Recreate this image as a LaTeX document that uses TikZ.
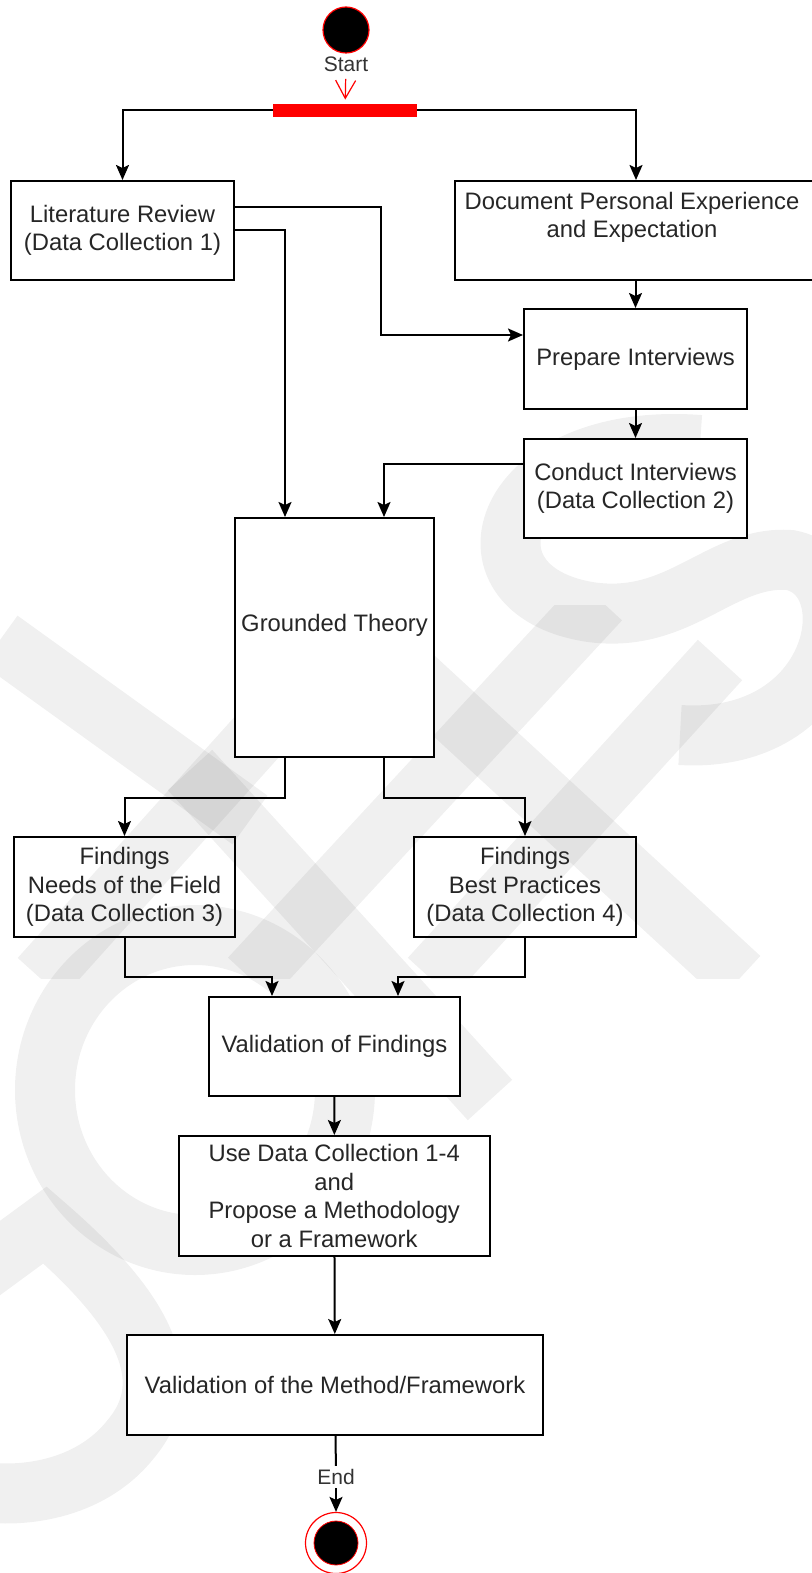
\documentclass[tikz,border=0pt]{standalone}
\usepackage{fontspec}
\setmainfont{Liberation Sans}
\usetikzlibrary{arrows.meta,calc}
\newcommand\boxfont{\fontsize{11.9}{14.3}\selectfont}
\newcommand\lblfont{\fontsize{10.5}{12}\selectfont}
\begin{document}
\begin{tikzpicture}[x=0.5pt,y=-0.5pt,
  box/.style={draw=black,line width=1pt,fill=white,inner sep=0pt,align=center,
    font=\boxfont,text=black!85},
  sz/.style 2 args={minimum width=#1*0.5pt,minimum height=#2*0.5pt},
  txt/.style={inner sep=0pt,align=center,font=\boxfont,text=black!85},
  lbl/.style={inner sep=1.5pt,font=\lblfont,text=black!80},
  arr/.style={line width=1pt,-{Stealth[length=7.5pt,width=6.5pt,inset=1.5pt]}},
  line/.style={line width=1pt},
  openarr/.style={red,line width=0.6pt,-{Straight Barb[length=9pt,width=10pt]}},
  wm/.style={line width=30pt,draw=black,draw opacity=0.06}]

\useasboundingbox (0,0) rectangle (811,1573);

% faint background emblem
\draw[wm] (700,445) .. controls (500,430) and (450,590) .. (590,612)
  .. controls (680,625) and (720,555) .. (790,560)
  .. controls (870,575) and (840,745) .. (680,735);
\begin{scope}
  \clip (0,605) rectangle (790,978);
  \draw[wm] (0,640) -- (250,820);
  \draw[wm] (40,978) -- (380,600);
  \draw[wm] (250,978) -- (600,600);
  \draw[wm] (430,978) -- (720,660);
  \draw[wm] (330,600) -- (740,978);
\end{scope}
\draw[wm] (190,770) -- (490,1100);
\draw[wm] (195,1090) ellipse [x radius=150,y radius=155];
\draw[wm] (-30,1280) -- (45,1225) .. controls (120,1290) and (190,1370) .. (130,1440)
  .. controls (90,1490) and (20,1500) .. (-30,1490);

% start and fork
\node[circle,fill=black,draw=red,line width=0.6pt,minimum size=23pt,inner sep=0pt] (start) at (346,30) {};
\node[lbl] (startl) at (346,64) {Start};
\node[fill=red,minimum width=72pt,minimum height=6.5pt,inner sep=0pt] (fork) at (345,110.5) {};

% activities
\node[box,sz={223}{99}] (lit) at (122.5,230.5) {Literature Review\\(Data Collection 1)};
\node[box,sz={362}{99}] (doc) at (636,230.5) {};
\node[txt] (doct) at (632,217.5) {Document Personal Experience\\and Expectation};
\node[box,sz={223}{100}] (prep) at (635.5,359) {Prepare Interviews};
\node[box,sz={223}{99}] (cond) at (635.5,488.5) {Conduct Interviews\\(Data Collection 2)};
\node[box,sz={199}{239}] (grnd) at (334.5,637.5) {};
\node[txt] (grndt) at (334.5,625) {Grounded Theory};
\node[box,sz={221}{100},fill=none] (f3) at (124.5,887) {Findings\\Needs of the Field\\(Data Collection 3)};
\node[box,sz={222}{100},fill=none] (f4) at (525,887) {Findings\\Best Practices\\(Data Collection 4)};
\node[box,sz={251}{99}] (valf) at (334.5,1046.5) {Validation of Findings};
\node[box,sz={311.5}{120}] (use) at (334.25,1196) {Use Data Collection 1-4\\and\\Propose a Methodology\\or a Framework};
\node[box,sz={416}{100}] (valm) at (335,1385) {Validation of the Method/Framework};

% end
\node[lbl] (endl) at (336,1477) {End};
\node[circle,draw=red,fill=white,line width=0.6pt,minimum size=30.5pt,inner sep=0pt] (endo) at (336,1543) {};
\node[circle,fill=black,draw=red,line width=0.4pt,minimum size=22pt,inner sep=0pt] (endi) at (336,1543) {};

% connectors
\draw[openarr,shorten <=2pt,shorten >=2pt] (startl) -- (fork);
\draw[arr] (fork) -| (lit);
\draw[arr] (fork) -| (doc);
\draw[arr] (prep.north |- doc.south) -- (prep.north);
\draw[arr] (prep) -- (cond);
\draw[arr] (lit.east |- 0,207) -| (381,335) -- (prep.west |- 0,335);
\draw[arr] (lit.east) -| (grnd.north -| 285,0);
\draw[arr] (cond.west |- 0,464) -| (grnd.north -| 384,0);
\draw[arr] (grnd.south -| 285,0) -- (285,798) -| (f3.north);
\draw[arr] (grnd.south -| 384,0) -- (384,798) -| (f4.north);
\draw[arr] (f3.south) -- (124.5,977) -| (valf.north -| 272,0);
\draw[arr] (f4.south) -- (525,977) -| (valf.north -| 398,0);
\draw[arr] (valf) -- (use);
\draw[arr] (use) -- (valm);
\draw[line] (valm) -- (endl);
\draw[arr] (endl) -- (endo);
\end{tikzpicture}
\end{document}
